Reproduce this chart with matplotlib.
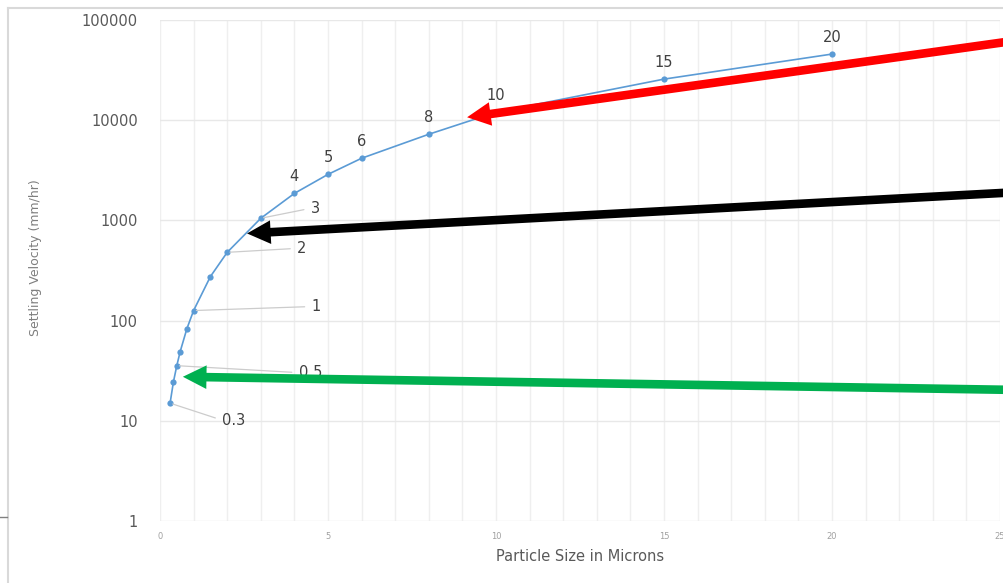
import matplotlib
matplotlib.use("Agg")
import matplotlib.pyplot as plt
from matplotlib.lines import Line2D

# particle size (microns) and settling velocity (mm/hr)
sizes = [0.3, 0.4, 0.5, 0.6, 0.8, 1, 1.5, 2, 3, 4, 5, 6, 8, 10, 15, 20]
velocity = [15, 24.5, 35.5, 49, 83, 126, 275, 480, 1050, 1860, 2880, 4170, 7240, 12000, 25700, 45700]
point_labels = ["0.3", None, "0.5", None, None, "1", None, "2", "3", "4", "5", "6", "8", "10", "15", "20"]

x_ticks = [0, 5, 10, 15, 20, 25]
x_tick_labels = ["0", "5", "10", "15", "20", "25"]
y_ticks = [1, 10, 100, 1000, 10000, 100000]
y_tick_labels = ["1", "10", "100", "1000", "10000", "100000"]

# arrows: where each one points (data) and its colour
arrow_targets = [(9.14, 10700), (2.59, 741), (0.68, 27.5)]
arrow_colors = ["#ff0000", "#000000", "#00b050"]
# tails sit past the right edge of the figure (pixels from top-left)
arrow_tails = [(1020, 40), (1020, 192), (1020, 390)]

# label offsets in pixels (dx right, dy up) for labels with a leader line
label_offsets = {
    "0.3": (52, -17),
    "0.5": (122, -7),
    "1": (118, 4),
    "2": (70, 4),
    "3": (50, 10),
}

fig = plt.figure(figsize=(10.04, 5.83), dpi=100)
ax = fig.add_axes([160 / 1004, 62 / 583, 840 / 1004, 501 / 583])

ax.plot(sizes, velocity, color="#5b9bd5", lw=1.2, marker="o", markersize=4.5,
        markeredgewidth=0, zorder=3)
ax.set_yscale("log")
ax.set_xlim(0, 25)
ax.set_ylim(1, 100000)

ax.set_xticks(x_ticks)
ax.set_xticklabels(x_tick_labels)
ax.set_xticks(range(0, 26), minor=True)
ax.set_yticks(y_ticks)
ax.set_yticklabels(y_tick_labels)
ax.yaxis.set_minor_locator(matplotlib.ticker.NullLocator())

ax.grid(True, which="both", axis="x", color="#efefef", lw=1)
ax.grid(True, which="major", axis="y", color="#e8e8e8", lw=1)
ax.tick_params(axis="both", which="both", length=0)
ax.tick_params(axis="y", labelsize=10.5, labelcolor="#595959", pad=16)
ax.tick_params(axis="x", labelsize=6, labelcolor="#a0a0a0", pad=8)
for s in ax.spines.values():
    s.set_visible(False)

ax.set_xlabel("Particle Size in Microns", fontsize=10.5, color="#595959", labelpad=6)
ax.set_ylabel("Settling Velocity (mm/hr)", fontsize=9, color="#7f7f7f")
ax.yaxis.set_label_coords(-118 / 840, 0.525)

for x, y, lab in zip(sizes, velocity, point_labels):
    if lab is None:
        continue
    if lab in label_offsets:
        dx, dy = label_offsets[lab]
        ax.annotate(lab, xy=(x, y), xytext=(dx, dy), textcoords="offset pixels",
                    ha="left", va="center", fontsize=10.5, color="#404040",
                    arrowprops=dict(arrowstyle="-", color="#cccccc", lw=0.9,
                                    relpos=(0, 0.5), shrinkA=3, shrinkB=2))
    else:
        ax.annotate(lab, xy=(x, y), xytext=(0, 17), textcoords="offset pixels",
                    ha="center", va="center", fontsize=10.5, color="#404040")

H = 583
for (tx, ty), (px, py), c in zip(arrow_targets, arrow_tails, arrow_colors):
    ax.annotate("", xy=(tx, ty), xytext=(px, H - py), textcoords="figure pixels",
                annotation_clip=False,
                arrowprops=dict(arrowstyle="simple,head_length=17,head_width=17,tail_width=6.2",
                                mutation_scale=1, color=c, lw=0,
                                shrinkA=0, shrinkB=0), zorder=5)

# outer chart frame and the stray mark at the left edge
fig.add_artist(Line2D([8 / 1004, 1], [1 - 8 / H, 1 - 8 / H], color="#d9d9d9", lw=1.5))
fig.add_artist(Line2D([8 / 1004, 8 / 1004], [0, 1 - 8 / H], color="#d9d9d9", lw=1.5))
fig.add_artist(Line2D([0, 7 / 1004], [1 - 517 / H, 1 - 517 / H], color="#808080", lw=1))

fig.savefig("out.png", dpi=100)
